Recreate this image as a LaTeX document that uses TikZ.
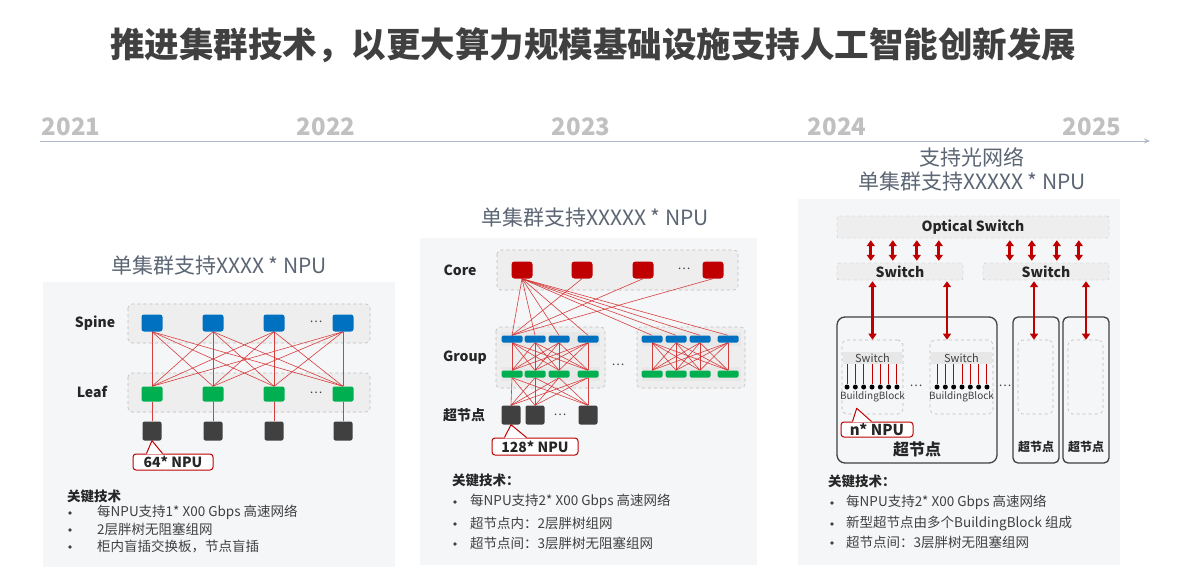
\documentclass[tikz,border=0pt]{standalone}
\usepackage{fontspec}
\setmainfont{Noto Sans CJK SC}
\usetikzlibrary{arrows.meta,calc}
\pgfdeclarelayer{back}
\pgfdeclarelayer{wires}
\pgfsetlayers{back,wires,main}

\definecolor{inkgray}{HTML}{404040}
\definecolor{yeargray}{HTML}{C0C0C0}
\definecolor{axisgray}{HTML}{ADB9CA}
\definecolor{captiongray}{HTML}{5B6573}
\definecolor{panelbg}{HTML}{F5F6F8}
\definecolor{tierfill}{HTML}{EEEEEE}
\definecolor{bandfill}{HTML}{E7E7E7}
\definecolor{tierline}{HTML}{BDBDBD}
\definecolor{swblue}{HTML}{0070C0}
\definecolor{swgreen}{HTML}{00B050}
\definecolor{corered}{HTML}{C00000}
\definecolor{wirered}{HTML}{D42A2A}
\definecolor{textdark}{HTML}{262626}

\tikzset{
  headline/.style={font=\bfseries\fontsize{34.5}{40}\selectfont, text=inkgray},
  year/.style={font=\bfseries\fontsize{24}{28}\selectfont, text=yeargray},
  caption/.style={font=\fontsize{21}{25}\selectfont, text=captiongray},
  panel/.style={fill=panelbg},
  tier/.style={draw=tierline, dashed, fill=tierfill, rounded corners=4pt, line width=0.6pt},
  band/.style={fill=bandfill},
  tierlabel/.style={font=\bfseries\fontsize{14}{16}\selectfont, text=textdark},
  spinesw/.style={fill=swblue, rounded corners=2.5pt, minimum width=21pt, minimum height=17pt, inner sep=0pt},
  leafsw/.style={fill=swgreen, rounded corners=2pt, minimum width=21pt, minimum height=15pt, inner sep=0pt},
  npu/.style={fill=inkgray, rounded corners=2pt, minimum size=19pt, inner sep=0pt},
  coresw/.style={fill=corered, rounded corners=3pt, minimum width=21pt, minimum height=17pt, inner sep=0pt},
  upbar/.style={fill=swblue, rounded corners=1.5pt, minimum width=21pt, minimum height=7pt, inner sep=0pt},
  downbar/.style={fill=swgreen, rounded corners=1.5pt, minimum width=21pt, minimum height=7pt, inner sep=0pt},
  wire/.style={draw=wirered, line width=0.6pt, opacity=0.9},
  gap/.style={font=\fontsize{12}{14}\selectfont, text=inkgray},
  callout/.style={draw=corered, line width=1pt, fill=white, rounded corners=3pt, inner sep=0pt,
    font=\bfseries\fontsize{14}{16}\selectfont, text=textdark},
  calloutline/.style={draw=corered, line width=1pt, line join=round},
  keyhead/.style={anchor=west, inner sep=0pt, font=\bfseries\fontsize{13.5}{16}\selectfont, text=textdark},
  keyitem/.style={anchor=west, inner sep=0pt, font=\fontsize{13.5}{16}\selectfont, text=inkgray},
  keydot/.style={circle, fill=inkgray, minimum size=3.6pt, inner sep=0pt},
  optbox/.style={draw=tierline, dashed, fill=tierfill, rounded corners=2pt, inner sep=0pt,
    font=\bfseries\fontsize{14}{16}\selectfont, text=textdark},
  biarrow/.style={draw=corered, line width=2.8pt, {Triangle[width=8pt,length=6pt]}-{Triangle[width=8pt,length=6pt]}},
  snbox/.style={draw=inkgray, line width=1.3pt, rounded corners=8pt, inner sep=0pt},
  bbbox/.style={draw=tierline, dashed, fill=panelbg, rounded corners=5pt, inner sep=0pt, line width=0.6pt},
  bbswitch/.style={fill=bandfill, inner sep=0pt, minimum width=59pt, minimum height=12pt,
    font=\fontsize{11}{13}\selectfont, text=inkgray},
  bbname/.style={inner sep=0pt, font=\fontsize{10}{12}\selectfont, text=inkgray},
  port/.style={circle, fill=black, minimum size=5pt, inner sep=0pt},
  portwire/.style={draw=corered, line width=1pt},
}

\begin{document}
\begin{tikzpicture}[x=1pt, y=-1pt]
\useasboundingbox (0,0) rectangle (1185,570);

% ---------- headline and time axis ----------
\node[headline] (headline) at (593,45) {推进集群技术，以更大算力规模基础设施支持人工智能创新发展};
\node[year] (y2021) at (71,127) {2021};
\node[year] (y2022) at (326,127) {2022};
\node[year] (y2023) at (581,127) {2023};
\node[year] (y2024) at (837,127) {2024};
\node[year] (y2025) at (1092,127) {2025};
\coordinate (axisstart) at (40,141);
\coordinate (axisend) at (1150,141);
\draw[axisgray, line width=1pt, -{Stealth[length=6pt,width=5pt]}] (axisstart) -- (axisend);

% ---------- panel backgrounds ----------
\begin{pgfonlayer}{back}
\fill[panel] (43,282) rectangle (395,567);
\fill[panel] (420,238) rectangle (757,565);
\fill[panel] (798,199) rectangle (1120,565);
% two-tier fat tree
\draw[tier] (128,304) rectangle (370,343);
\draw[tier] (128,373) rectangle (370,412);
% three-tier fat tree
\draw[tier] (497,250) rectangle (738,290);
\draw[tier] (496,327) rectangle (605,388);
\draw[tier] (637,327) rectangle (745,388);
\fill[band] (501,332) rectangle (600,346);
\fill[band] (501,367) rectangle (600,381);
\fill[band] (642,332) rectangle (741,346);
\fill[band] (642,367) rectangle (741,381);
\end{pgfonlayer}

% ---------- panel captions ----------
\node[caption] (cap1) at (219,265) {单集群支持XXXX * NPU};
\node[caption] (cap2) at (595,217) {单集群支持XXXXX * NPU};
\node[caption] (cap3a) at (972,157) {支持光网络};
\node[caption] (cap3b) at (972,181) {单集群支持XXXXX * NPU};

% ================= 2-tier: Spine / Leaf =================
\node[tierlabel] (lspine) at (95,323) {Spine};
\node[tierlabel] (lleaf) at (92,392) {Leaf};
\foreach \x [count=\i] in {152,213,274,343} {
  \node[spinesw] (sp\i) at (\x,323) {};
  \node[leafsw] (lf\i) at (\x,394) {};
  \node[npu] (np\i) at (\x,431) {};
}
\node[gap] (spgap) at (316,322) {…};
\node[gap] (lfgap) at (316,393) {…};
\begin{pgfonlayer}{wires}
\foreach \i in {1,...,4} {
  \foreach \j in {1,...,4} { \draw[wire] (sp\i.south) -- (lf\j.north); }
  \draw[wire] (lf\i.south) -- (np\i.north);
}
\end{pgfonlayer}

\node[callout, minimum width=80pt, minimum height=16pt] (c64) at (173,462) {64* NPU};
\fill[white] ($(c64.north west)+(14,0.9)$) -- (np1.south) -- ($(c64.north west)+(30,0.9)$) -- cycle;
\draw[calloutline] ($(c64.north west)+(14,0)$) -- (np1.south) -- ($(c64.north west)+(30,0)$);

\node[keyhead] (k1h) at (67,496) {关键技术};
\node[keydot] (k1d1) at (70,513) {};
\node[keydot] (k1d2) at (70,530) {};
\node[keydot] (k1d3) at (70,547) {};
\node[keyitem] (k1a) at (97,512) {每NPU支持1* X00 Gbps 高速网络};
\node[keyitem] (k1b) at (97,529) {2层胖树无阻塞组网};
\node[keyitem] (k1c) at (97,546) {柜内盲插交换板，节点盲插};

% ================= 3-tier: Core / Group / super node =================
\node[tierlabel] (lcore) at (460,270) {Core};
\node[tierlabel] (lgroup) at (465,358) {Group};
\node[tierlabel] (lsn) at (464,415) {超节点};
\foreach \x [count=\i] in {522,582,643,713} { \node[coresw] (co\i) at (\x,270) {}; }
\node[gap] (cogap) at (684,269) {…};
\foreach \x [count=\i] in {512,535,559,588} {
  \node[upbar] (ua\i) at (\x,339) {};
  \node[downbar] (da\i) at (\x,374) {};
}
\foreach \x [count=\i] in {652,676,700,728} {
  \node[upbar] (ub\i) at (\x,339) {};
  \node[downbar] (db\i) at (\x,374) {};
}
\node[gap] (grpgap) at (618,365) {…};
\node[npu] (sn1) at (511,415) {};
\node[npu] (sn2) at (535,415) {};
\node[npu] (sn3) at (588,415) {};
\node[gap] (sngap) at (560,415) {…};
\begin{pgfonlayer}{wires}
\foreach \i in {1,...,4} {
  \draw[wire] (co1.south) -- (ua\i.north);
  \draw[wire] (co1.south) -- (ub\i.north);
  \foreach \j in {1,...,4} {
    \draw[wire] (ua\i.south) -- (da\j.north);
    \draw[wire] (ub\i.south) -- (db\j.north);
  }
  \foreach \k in {1,2,3} { \draw[wire] (da\i.south) -- (sn\k.north); }
}
\foreach \i in {2,3,4} { \draw[wire] (co\i.south) -- (ua1.north); }
\end{pgfonlayer}

\node[callout, minimum width=86pt, minimum height=17pt] (c128) at (535,446.5) {128* NPU};
\fill[white] ($(c128.north west)+(13,0.9)$) -- (sn1.south) -- ($(c128.north west)+(35,0.9)$) -- cycle;
\draw[calloutline] ($(c128.north west)+(13,0)$) -- (sn1.south) -- ($(c128.north west)+(35,0)$);

\node[keyhead] (k2h) at (452,480) {关键技术：};
\node[keydot] (k2d1) at (455,502) {};
\node[keydot] (k2d2) at (455,524) {};
\node[keydot] (k2d3) at (455,544) {};
\node[keyitem] (k2a) at (470,501) {每NPU支持2* X00 Gbps 高速网络};
\node[keyitem] (k2b) at (470,523) {超节点内：2层胖树组网};
\node[keyitem] (k2c) at (470,543) {超节点间：3层胖树无阻塞组网};

% ================= optical network =================
\node[optbox, minimum width=272pt, minimum height=22pt] (os) at (973,227) {Optical Switch};
\node[optbox, minimum width=126pt, minimum height=17pt] (swl) at (900,271.5) {Switch};
\node[optbox, minimum width=126pt, minimum height=17pt] (swr) at (1046,271.5) {Switch};
\foreach \dx [count=\i] in {34,56,80,102,173,195,220,242} {
  \coordinate (oa\i) at ($(os.south west)+(\dx,2)$);
}
\foreach \i in {1,...,4} { \draw[biarrow] (oa\i) -- ($(oa\i |- swl.north)+(0,-2)$); }
\foreach \i in {5,...,8} { \draw[biarrow] (oa\i) -- ($(oa\i |- swr.north)+(0,-2)$); }

% super nodes
\node[snbox, minimum width=160pt, minimum height=146pt] (snA) at (917,390) {};
\node[snbox, rounded corners=5pt, minimum width=46pt, minimum height=146pt] (snB) at (1036,390) {};
\node[snbox, rounded corners=5pt, minimum width=46pt, minimum height=146pt] (snC) at (1086,390) {};
\node[font=\bfseries\fontsize{16}{18}\selectfont, text=textdark, inner sep=0pt] (snAlbl) at (917,449) {超节点};
\node[font=\bfseries\fontsize{12}{14}\selectfont, text=textdark, inner sep=0pt] (snBlbl) at (1036,447) {超节点};
\node[font=\bfseries\fontsize{12}{14}\selectfont, text=textdark, inner sep=0pt] (snClbl) at (1086,447) {超节点};

% building blocks
\node[bbbox, minimum width=61pt, minimum height=74pt] (bb1) at (872.5,377) {};
\node[bbbox, minimum width=63pt, minimum height=74pt] (bb2) at (961.5,377) {};
\node[bbbox, minimum width=35pt, minimum height=74pt] (bb3) at (1035.5,377) {};
\node[bbbox, minimum width=35pt, minimum height=74pt] (bb4) at (1085.5,377) {};
\node[bbswitch] (bbs1) at (872.5,358) {Switch};
\node[bbswitch, minimum width=61pt] (bbs2) at (961.5,358) {Switch};
\node[bbname] (bbn1) at (872.5,397) {BuildingBlock};
\node[bbname] (bbn2) at (961.5,397) {BuildingBlock};
\foreach \k in {0,...,6} {
  \node[port] (pa\k) at (847+8.33*\k,387) {};
  \node[port] (pb\k) at (937+8.33*\k,387) {};
  \draw[portwire] (pa\k |- bbs1.south) -- (pa\k);
  \draw[portwire] (pb\k |- bbs2.south) -- (pb\k);
}
\node[gap] (bbgap) at (916,386) {…};
\node[gap] (sngapR) at (1005,386) {…};

% switch to building block links
\coordinate (ab1) at (bb1.north);
\coordinate (ab2) at ($(bb2.north)+(-14.5,0)$);
\coordinate (ab3) at ($(bb3.north)+(-1.5,0)$);
\coordinate (ab4) at ($(bb4.north)+(0.5,0)$);
\draw[biarrow] ($(ab1 |- swl.south)+(0,1)$) -- (ab1);
\draw[biarrow] ($(ab2 |- swl.south)+(0,1)$) -- (ab2);
\draw[biarrow] ($(ab3 |- swr.south)+(0,1)$) -- (ab3);
\draw[biarrow] ($(ab4 |- swr.south)+(0,1)$) -- (ab4);

\node[callout, font=\bfseries\fontsize{15}{17}\selectfont, minimum width=72pt, minimum height=15pt] (cn) at (877,429.5) {n* NPU};
\coordinate (cntip) at ($(bb1.south west)+(15,-6)$);
\fill[white] ($(cn.north west)+(12,0.9)$) -- (cntip) -- ($(cn.north west)+(31,0.9)$) -- cycle;
\draw[calloutline] ($(cn.north west)+(12,0)$) -- (cntip) -- ($(cn.north west)+(31,0)$);

\node[keyhead] (k3h) at (828,481) {关键技术：};
\node[keydot] (k3d1) at (832,503) {};
\node[keydot] (k3d2) at (832,524) {};
\node[keydot] (k3d3) at (832,543) {};
\node[keyitem] (k3a) at (846,502) {每NPU支持2* X00 Gbps 高速网络};
\node[keyitem] (k3b) at (846,523) {新型超节点由多个BuildingBlock 组成};
\node[keyitem] (k3c) at (846,542) {超节点间：3层胖树无阻塞组网};
\end{tikzpicture}
\end{document}
